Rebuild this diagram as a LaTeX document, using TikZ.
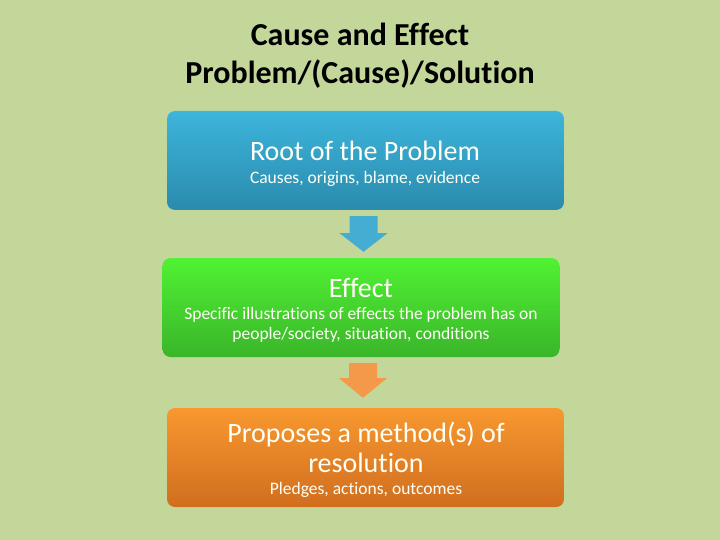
\documentclass[tikz,border=0pt]{standalone}
\usepackage{fontspec}
\setmainfont[Ligatures={NoCommon}]{Carlito}
\usetikzlibrary{calc}
\definecolor{bg}{HTML}{C4D79B}
\definecolor{blueT}{HTML}{3DB5DC}
\definecolor{blueB}{HTML}{2A8BAD}
\definecolor{greenT}{HTML}{50F233}
\definecolor{greenB}{HTML}{3AB52A}
\definecolor{orangeT}{HTML}{F8982F}
\definecolor{orangeB}{HTML}{D06E1F}
\definecolor{arrowBlue}{HTML}{46ADD2}
\definecolor{arrowOrange}{HTML}{F4994A}
\definecolor{txtW}{HTML}{FFFFF6}
\tikzset{
  box/.style={rectangle, rounded corners=8pt, minimum width=397pt, minimum height=99pt, inner sep=0pt},
  big/.style={text=txtW, font=\fontsize{28}{30}\selectfont, align=center, inner sep=0pt},
  small/.style={text=txtW, font=\fontsize{17.5}{20}\selectfont, align=center, inner sep=0pt},
  ttl/.style={font=\fontsize{32}{38}\selectfont\bfseries, align=center, inner sep=0pt}
}
\begin{document}
\begin{tikzpicture}[x=1pt,y=-1pt]
\fill[bg] (0,0) rectangle (720,540);
\useasboundingbox (0,0) rectangle (720,540);
\node[ttl] (title) at (360,56) {Cause and Effect\\Problem/(Cause)/Solution};

\node[box, top color=blueT, bottom color=blueB] (b1) at (365.5,160.5) {};
\node[box, top color=greenT, bottom color=greenB] (b2) at (361,307.5) {};
\node[box, top color=orangeT, bottom color=orangeB] (b3) at (365.5,457.5) {};

\node[big] (t1) at (365,151) {Root of the Problem};
\node[small] (s1) at (365,179) {Causes, origins, blame, evidence};

\node[big] (t2) at (361,288) {Effect};
\node[small] (s2) at (361,325) {Specific illustrations of effects the problem has on\\people/society, situation, conditions};

\node[big] (t3) at (366,447.5) {Proposes a method(s) of\\resolution};
\node[small] (s3) at (366,490) {Pledges, actions, outcomes};

% block arrows
\coordinate (a1s) at ($(b1.south)+(-2,6)$);
\coordinate (a1e) at ($(b2.north)+(2.5,-6)$);
\fill[arrowBlue] ($(a1s)+(-14,0)$) -- ($(a1s)+(14,0)$) -- ($(a1s)+(14,17)$) -- ($(a1s)+(24,17)$)
  -- (a1e) -- ($(a1s)+(-24,17)$) -- ($(a1s)+(-14,17)$) -- cycle;
\coordinate (a2s) at ($(b2.south)+(2,6)$);
\coordinate (a2e) at ($(b3.north)+(-2.5,-10)$);
\fill[arrowOrange] ($(a2s)+(-14,0)$) -- ($(a2s)+(14,0)$) -- ($(a2s)+(14,15)$) -- ($(a2s)+(24,15)$)
  -- (a2e) -- ($(a2s)+(-24,15)$) -- ($(a2s)+(-14,15)$) -- cycle;
\end{tikzpicture}
\end{document}
